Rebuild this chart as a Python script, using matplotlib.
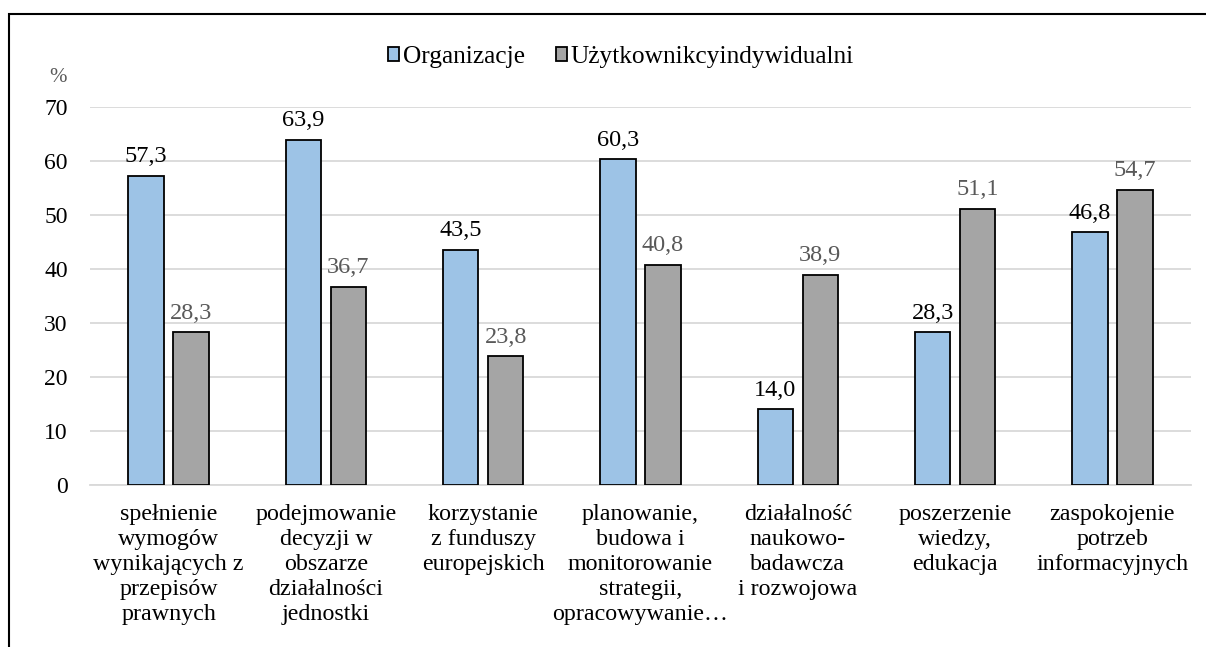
import matplotlib.pyplot as plt
import numpy as np
from matplotlib.patches import Rectangle

# === Dane ===
kategorie = [
    "spełnienie\nwymogów\nwynikających z\nprzepisów\nprawnych",
    "podejmowanie\ndecyzji w\nobszarze\ndziałalności\njednostki",
    "korzystanie\nz funduszy\neuropejskich",
    "planowanie,\nbudowa i\nmonitorowanie\nstrategii,\nopracowywanie…",
    "działalność\nnaukowo-\nbadawcza\ni rozwojowa",
    "poszerzenie\nwiedzy,\nedukacja",
    "zaspokojenie\npotrzeb\ninformacyjnych",
]
organizacje = [57.3, 63.9, 43.5, 60.3, 14.0, 28.3, 46.8]
uzytkownicy = [28.3, 36.7, 23.8, 40.8, 38.9, 51.1, 54.7]
serie = ["Organizacje", "Użytkownikcyindywidualni"]

plt.rcParams['font.family'] = 'serif'
plt.rcParams['font.serif'] = ['Liberation Serif', 'DejaVu Serif']

fig = plt.figure(figsize=(12.06, 6.47), dpi=100)
ax = fig.add_axes([90 / 1206, 1 - 485 / 647, 1101 / 1206, 378 / 647])

x = np.arange(len(kategorie))
w = 0.225
off = 0.143
b1 = ax.bar(x - off, organizacje, w, color='#9DC3E6', edgecolor='black',
            linewidth=1.3, label=serie[0], zorder=3)
b2 = ax.bar(x + off, uzytkownicy, w, color='#A5A5A5', edgecolor='black',
            linewidth=1.3, label=serie[1], zorder=3)

for r, v in zip(b1, organizacje):
    ax.text(r.get_x() + r.get_width() / 2, v + 1.6, f"{v:.1f}".replace('.', ','),
            ha='center', va='bottom', fontsize=17.5, color='black')
for r, v in zip(b2, uzytkownicy):
    ax.text(r.get_x() + r.get_width() / 2, v + 1.6, f"{v:.1f}".replace('.', ','),
            ha='center', va='bottom', fontsize=17.5, color='#595959')

ax.set_xlim(-0.5, len(kategorie) - 0.5)
ax.set_ylim(0, 70)
ax.set_yticks(range(0, 71, 10))
ax.tick_params(axis='y', length=0, labelsize=17, pad=16)
ax.tick_params(axis='x', length=0, labelsize=17.3, pad=14)
ax.set_xticks(x)
ax.set_xticklabels(kategorie, linespacing=1.25)
ax.grid(axis='y', color='#D9D9D9', linewidth=1.3, zorder=0)
for s in ['top', 'right', 'left']:
    ax.spines[s].set_visible(False)
ax.spines['bottom'].set_color('#D9D9D9')
ax.spines['bottom'].set_linewidth(1.3)

fig.text(58 / 1206, 1 - 78 / 647, "%", fontsize=15, color='#595959',
         ha='center', va='center')

leg = fig.legend(loc='center', bbox_to_anchor=(621 / 1206, 1 - 57 / 647), ncol=2,
                 frameon=False, fontsize=18.3, handlelength=0.45, handleheight=0.45,
                 handletextpad=0.15, columnspacing=1.2)

# ramka wykresu
fig.patches.append(Rectangle((9 / 1206, -0.05), 1.2, 1 - 14 / 647 + 0.05,
                             transform=fig.transFigure, fill=False,
                             edgecolor='black', linewidth=1.5))

plt.savefig("out.png", dpi=100)
